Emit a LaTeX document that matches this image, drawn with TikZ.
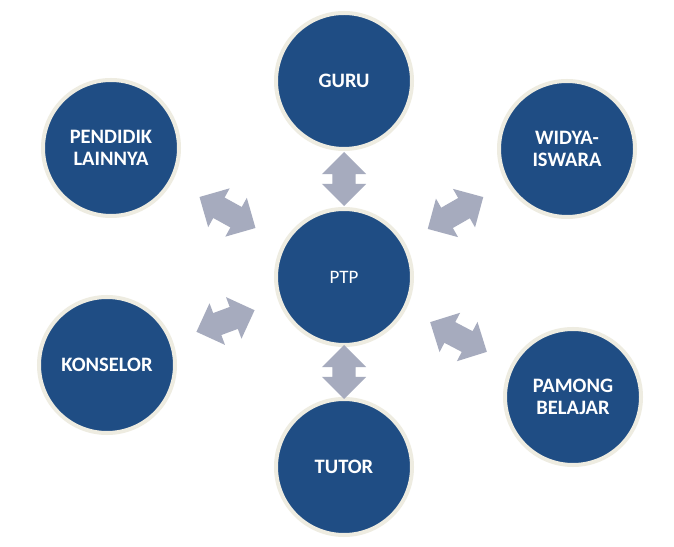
\documentclass[tikz,border=0pt]{standalone}
\usepackage{fontspec}
\setmainfont{Carlito}
\usetikzlibrary{shapes.arrows,calc}
\definecolor{circblue}{RGB}{31,77,132}
\definecolor{circrim}{RGB}{238,236,225}
\definecolor{arrowgray}{RGB}{166,171,190}
\tikzset{
 hub/.style={circle, fill=circblue, draw=circrim, line width=4pt, minimum size=136pt, inner sep=0pt, text=white, align=center, font=\fontsize{19}{21.7}\selectfont},
 spoke/.style={hub, font=\fontsize{20.5}{22}\selectfont\bfseries},
 dblarrow/.style={double arrow, fill=arrowgray, draw=none, inner xsep=0pt, inner ysep=11.5pt, minimum width=0pt, double arrow head extend=10.5pt, double arrow tip angle=90, sloped, pos=0.5, anchor=center},
}
\begin{document}
\begin{tikzpicture}[x=1pt,y=1pt]
\useasboundingbox[fill=white] (0,0) rectangle (674,546);
\node[hub] (ptp) at (344,269) {PTP};
\node[spoke] (guru) at (344,465) {GURU};
\node[spoke] (widya) at (567,397) {WIDYA-\\ISWARA};
\node[spoke] (pamong) at (573,149) {PAMONG\\BELAJAR};
\node[spoke] (tutor) at (344,79) {TUTOR};
\node[spoke] (konselor) at (107,181) {KONSELOR};
\node[spoke] (pendidik) at (111,398) {PENDIDIK\\LAINNYA};
\path (ptp) -- node[dblarrow, minimum height=54pt] (a1) {} (guru);
\path (ptp) -- node[dblarrow, minimum height=54pt] (a2) {} (tutor);
\path (ptp) -- node[dblarrow, minimum height=64pt] (a3) {} (widya);
\path (ptp) -- node[dblarrow, minimum height=64pt] (a4) {} (pamong);
\path (ptp) -- node[dblarrow, minimum height=62pt] (a5) {} (konselor);
\path (ptp) -- node[dblarrow, minimum height=64pt] (a6) {} (pendidik);
\end{tikzpicture}
\end{document}
